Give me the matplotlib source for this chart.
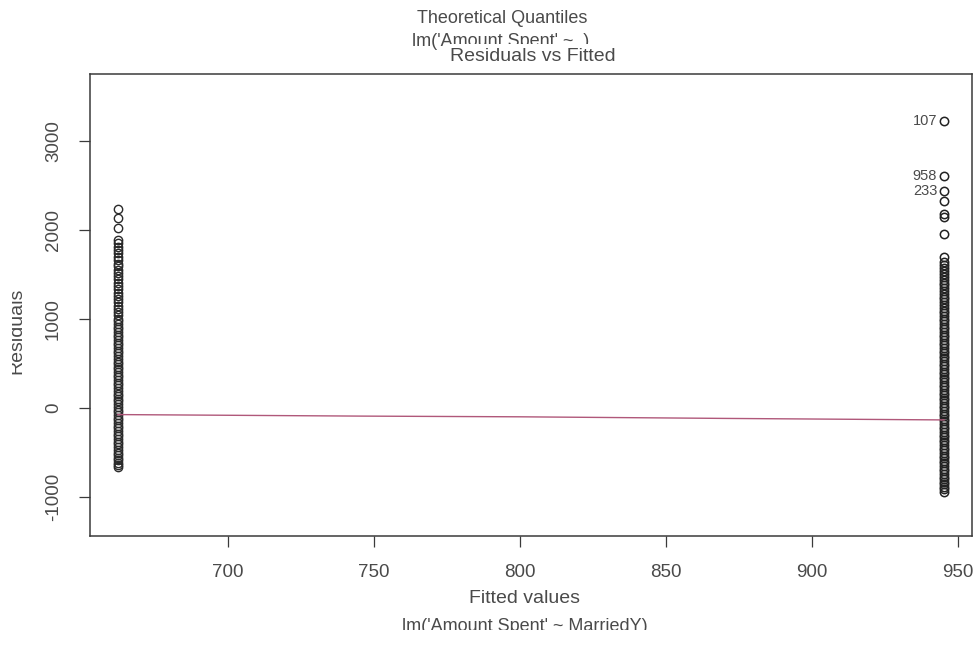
import matplotlib.pyplot as plt
from matplotlib.patches import Rectangle

plt.rcParams['font.family'] = ['Liberation Sans', 'DejaVu Sans']

# fitted values of the two groups (MarriedY = 0 / 1)
fitted_levels = [662.3, 945.2]

# residuals of the first group
resid_left = [2240, 2130, 2025, 1885, 1850, 1805, 1772, 1735, 1698, 1664, 1622,
              1594, 1551, 1515, 1482, 1443, 1405, 1368, 1334, 1290, 1262, 1221,
              1186, 1148, 1112, 1074, 1040, 1003, 972, 945, 912, 884, 851, 823,
              795, 761, 733, 704, 672, 641, 612, 584, 553, 521, 493, 462, 434,
              401, 372, 343, 311, 284, 252, 221, 193, 160, 132, 101, 73, 41, 12,
              -18, -47, -81, -108, -139, -172, -201, -228, -262, -291, -318,
              -352, -383, -411, -442, -468, -503, -531, -562, -588, -615, -640,
              -662]

# residuals of the second group
resid_right = [3225, 2607, 2438, 2330, 2180, 2140, 1955,
               1690, 1640, 1605, 1572, 1538, 1503, 1471, 1440, 1408, 1377,
               1342, 1311, 1282, 1250, 1218, 1187, 1156, 1124, 1093, 1062,
               1031, 1000, 972, 941, 910, 882, 851, 820, 792, 761, 733, 702,
               674, 643, 615, 584, 556, 525, 497, 466, 438, 407, 379, 348,
               320, 289, 261, 230, 202, 171, 143, 112, 84, 53, 25, -6, -34,
               -65, -93, -124, -152, -183, -211, -242, -270, -301, -329,
               -360, -388, -419, -447, -478, -506, -537, -565, -596, -624,
               -655, -683, -714, -742, -773, -801, -832, -860, -891, -915,
               -940]

# labelled observations in the second group
outlier_ids = ['107', '958', '233']
outlier_resid = [3225, 2607, 2438]

# smoothed residual line
smooth_x = [662.3, 745, 800, 870, 945.2]
smooth_y = [-75, -92, -100, -118, -135]

xticks = [700, 750, 800, 850, 900, 950]
yticks = [-1000, 0, 1000, 2000, 3000]

fig = plt.figure(figsize=(9.77, 6.48), dpi=100)
ax = fig.add_axes([0.092, 0.173, 0.903, 0.713])

ink = '#3a3a3a'
txt = '#4a4a4a'

ax.plot([fitted_levels[0]] * len(resid_left), resid_left, 'o', ms=6,
        mfc='none', mec='#2a2a2a', mew=1.0)
ax.plot([fitted_levels[1]] * len(resid_right), resid_right, 'o', ms=6,
        mfc='none', mec='#222222', mew=1.1)
ax.plot(smooth_x, smooth_y, color='#b0587a', lw=1.0)

for lab, r in zip(outlier_ids, outlier_resid):
    ax.annotate(lab, (fitted_levels[1], r), xytext=(-5, 0),
                textcoords='offset points', ha='right', va='center',
                fontsize=10.5, color=txt)

ax.set_xlim(652.7, 954.8)
ax.set_ylim(-1438, 3753)
ax.set_xticks(xticks)
ax.set_yticks(yticks)
ax.set_yticklabels([str(v) for v in yticks], rotation=90, va='center')
ax.tick_params(length=8, width=0.9, color=ink, labelsize=13.5,
               labelcolor=txt, pad=12)
for s in ax.spines.values():
    s.set_color(ink)
    s.set_linewidth(1.1)

# titles and axis captions
fig.text(0.514, 0.972, 'Theoretical Quantiles', ha='center', va='center',
         fontsize=13, color=txt)
fig.text(0.512, 0.936, "lm('Amount Spent' ~ .)", ha='center', va='center',
         fontsize=13, color=txt)
fig.text(0.545, 0.913, 'Residuals vs Fitted', ha='center', va='center',
         fontsize=14, color=txt,
         bbox=dict(facecolor='white', edgecolor='none', pad=2.5))
fig.text(0.537, 0.077, 'Fitted values', ha='center', va='center',
         fontsize=14, color=txt)
fig.text(0.537, 0.033, "lm('Amount Spent' ~ MarriedY)", ha='center',
         va='center', fontsize=13, color=txt)
fig.patches.append(Rectangle((0, 0), 1, 0.028, transform=fig.transFigure,
                             facecolor='white', edgecolor='none', zorder=5))
fig.text(0.017, 0.49, 'Residuals', ha='center', va='center', rotation=90,
         fontsize=14, color=txt)
fig.patches.append(Rectangle((0, 0), 0.012, 1, transform=fig.transFigure,
                             facecolor='white', edgecolor='none', zorder=5))

fig.savefig('out.png', dpi=100)
